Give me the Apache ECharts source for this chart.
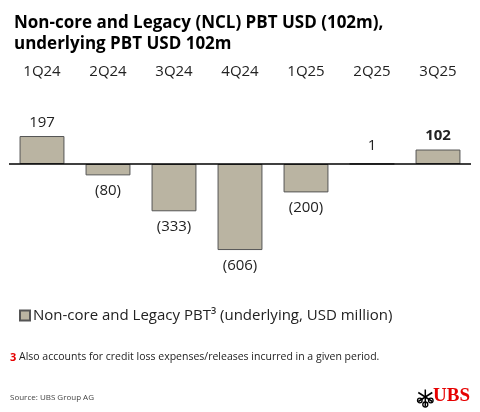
<!DOCTYPE html>
<html>
<head>
  <meta charset="utf-8">
  <script src="https://cdn.jsdelivr.net/npm/echarts@6/dist/echarts.min.js"></script>
  <style>
    html, body { margin: 0; padding: 0; background: #fff; }
    #chart { width: 480px; height: 412px; }
  </style>
</head>
<body>
  <div id="chart"></div>
  <script>
    const quarters = ['1Q24', '2Q24', '3Q24', '4Q24', '1Q25', '2Q25', '3Q25'];
    const pbtValues = [197, -80, -333, -606, -200, 1, 102];
    const seriesName = 'Non-core and Legacy PBT³ (underlying, USD million)';
    const FONT = '"Open Sans", "Noto Sans", sans-serif';

    function fmt(v) {
      return v < 0 ? '(' + Math.abs(v) + ')' : String(v);
    }

    let barData = pbtValues.map(function (v, i) {
      let label = {
        position: v < 0 ? 'bottom' : 'top',
        distance: v < 0 ? 8 : 6
      };
      if (v === 1) label.distance = 10;
      if (i === pbtValues.length - 1) label.fontWeight = 'bold';
      return { value: v, label: label };
    });

    let myChart = echarts.init(document.getElementById('chart'));
    let option = {
      animation: false,
      textStyle: { fontFamily: FONT },
      grid: { left: 9, right: 9, top: 121.4, bottom: 155.7 },
      title: {
        text: 'Non-core and Legacy (NCL) PBT USD (102m),\nunderlying PBT USD 102m',
        left: 9,
        top: 8,
        textStyle: { fontFamily: FONT, fontSize: 17, fontWeight: 'bold', color: '#000', lineHeight: 21 }
      },
      legend: {
        data: [seriesName],
        left: 14,
        top: 303,
        icon: 'rect',
        itemWidth: 10,
        itemHeight: 10,
        itemGap: 4,
        textStyle: { fontFamily: FONT, fontSize: 15, color: '#222', padding: [0, 0, 0, -2] }
      },
      xAxis: {
        type: 'category',
        data: quarters,
        position: 'top',
        offset: 42,
        axisLine: { show: false },
        axisTick: { show: false },
        axisLabel: { margin: 0, fontSize: 15, color: '#222', fontFamily: FONT }
      },
      yAxis: {
        type: 'value',
        min: -650,
        max: 300,
        show: false,
        splitLine: { show: false }
      },
      series: [{
        name: seriesName,
        type: 'bar',
        data: barData,
        barWidth: '68%',
        itemStyle: { color: '#bab4a2', borderColor: '#555', borderWidth: 1 },
        label: {
          show: true,
          fontSize: 15,
          color: '#222',
          fontFamily: FONT,
          formatter: function (p) { return fmt(p.value); }
        },
        markLine: {
          silent: true,
          symbol: 'none',
          label: { show: false },
          lineStyle: { color: '#000', width: 1.5, type: 'solid' },
          data: [{ yAxis: 0 }]
        }
      }],
      graphic: [
        {
          type: 'text',
          left: 10,
          top: 352,
          style: {
            text: '{n|3} Also accounts for credit loss expenses/releases incurred in a given period.',
            font: '10.5px ' + FONT,
            fill: '#222',
            rich: {
              n: { fill: '#e60000', fontWeight: 'bold', fontSize: 11, fontFamily: FONT }
            }
          }
        },
        {
          type: 'text',
          left: 10,
          top: 394,
          style: { text: 'Source: UBS Group AG', font: '8px ' + FONT, fill: '#444' }
        },
        {
          type: 'text',
          left: 433,
          top: 387,
          style: { text: 'UBS', font: 'bold 19px "Liberation Serif", serif', fill: '#e60000' }
        },
        {
          type: 'group',
          left: 415,
          top: 387,
          children: [
            { type: 'line', shape: { x1: 8, y1: 0, x2: 8, y2: 17 }, style: { stroke: '#000', lineWidth: 1.5 } },
            { type: 'line', shape: { x1: 1, y1: 3, x2: 15, y2: 12 }, style: { stroke: '#000', lineWidth: 1.5 } },
            { type: 'line', shape: { x1: 15, y1: 3, x2: 1, y2: 12 }, style: { stroke: '#000', lineWidth: 1.5 } },
            { type: 'circle', shape: { cx: 8, cy: 15, r: 2.5 }, style: { fill: 'none', stroke: '#000', lineWidth: 1.3 } },
            { type: 'circle', shape: { cx: 2.5, cy: 11, r: 2.3 }, style: { fill: 'none', stroke: '#000', lineWidth: 1.3 } },
            { type: 'circle', shape: { cx: 13.5, cy: 11, r: 2.3 }, style: { fill: 'none', stroke: '#000', lineWidth: 1.3 } }
          ]
        }
      ]
    };
    myChart.setOption(option);
  </script>
</body>
</html>
